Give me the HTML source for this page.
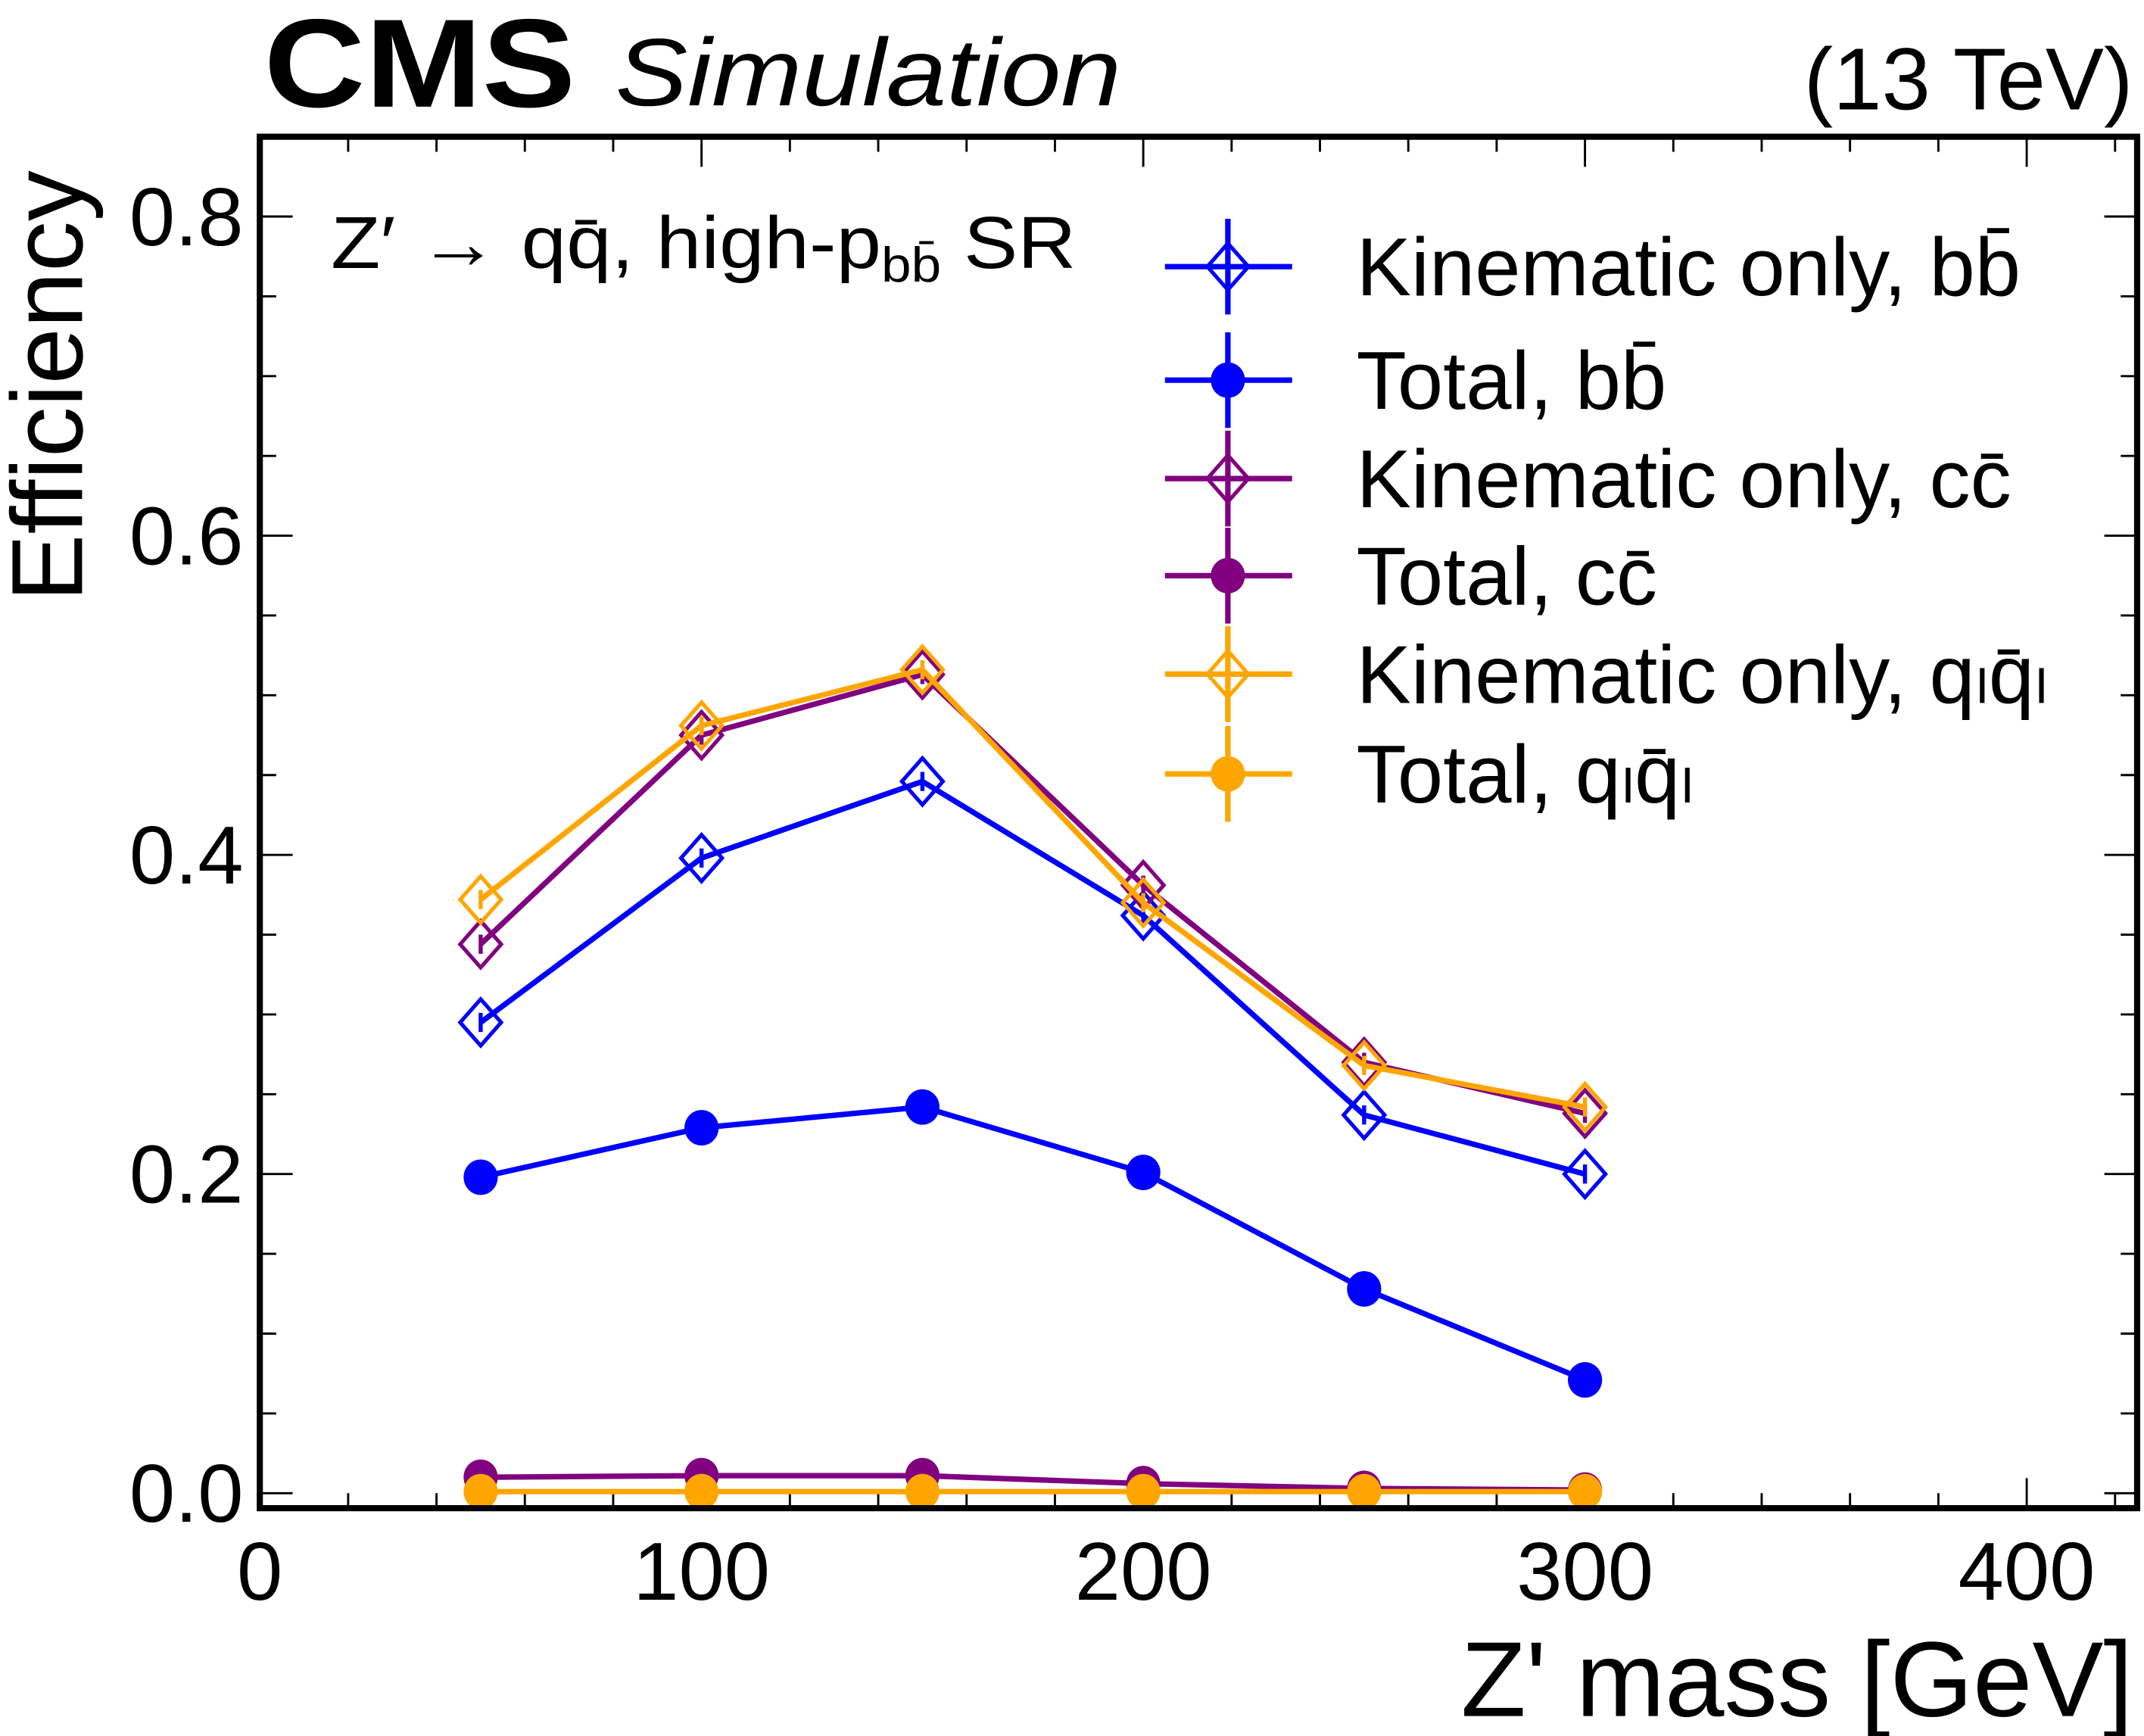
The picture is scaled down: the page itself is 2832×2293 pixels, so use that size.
<!DOCTYPE html>
<html><head><meta charset="utf-8"><style>html,body{margin:0;padding:0;background:#fff}svg{display:block}text{font-family:"Liberation Sans",sans-serif}</style></head>
<body>
<svg id="chart" width="2832" height="2293" viewBox="0 0 1568 1269.6" xmlns="http://www.w3.org/2000/svg">
<text x="193" y="78" font-size="92" font-weight="bold" textLength="228" lengthAdjust="spacingAndGlyphs">CMS</text>
<text x="450" y="77" font-size="70" font-style="italic" textLength="370" lengthAdjust="spacingAndGlyphs">Simulation</text>
<text x="1560" y="80" font-size="64" text-anchor="end">(13 TeV)</text>
<text transform="translate(60,440) rotate(-90)" font-size="74">Efficiency</text>
<text x="1560" y="1255" font-size="78" text-anchor="end">Z' mass [GeV]</text>
<text x="242" y="196" font-size="54" textLength="545" lengthAdjust="spacingAndGlyphs">Z′ → qq̄, high-p<tspan font-size="36" dy="10">bb̄</tspan><tspan dy="-10"> SR</tspan></text>
<g id="axes"></g>
<g id="series"></g>
<g id="legend"></g>
<rect x="190" y="100" width="1373" height="1003" fill="none" stroke="#000" stroke-width="4.5"/>
<script>
const masses=[50,100,150,200,250,300];
const kinBB=[0.295,0.398,0.446,0.362,0.237,0.200];
const totBB=[0.198,0.229,0.242,0.201,0.128,0.071];
const kinCC=[0.344,0.475,0.513,0.381,0.270,0.238];
const totCC=[0.010,0.011,0.011,0.006,0.003,0.002];
const kinQL=[0.372,0.481,0.516,0.370,0.268,0.242];
const totQL=[0.001,0.001,0.001,0.001,0.001,0.001];
const xTicks=[0,100,200,300,400];
const yTicks=[0.0,0.2,0.4,0.6,0.8];
const legendLabels=["Kinematic only, bb̄","Total, bb̄","Kinematic only, cc̄","Total, cc̄","Kinematic only, q\u2097q̄\u2097","Total, q\u2097q̄\u2097"];
const NS="http://www.w3.org/2000/svg";
const L=190,R=1563,T=100,B=1103,XMAX=425,YMIN=-0.0094,YMAX=0.85;
const sx=v=>L+(v/XMAX)*(R-L);
const sy=v=>B-(v-YMIN)/(YMAX-YMIN)*(B-T);
function mk(tag,attrs,parent){const e=document.createElementNS(NS,tag);for(const k in attrs)e.setAttribute(k,attrs[k]);parent.appendChild(e);return e;}
const ax=document.getElementById('axes');
for(let v=0;v<=XMAX;v+=20){const maj=v%100===0;const len=maj?22:11;
 let t=mk('line',{x1:sx(v),x2:sx(v),y1:B,y2:B-len,stroke:'#000','stroke-width':1.6},ax);
 
 t=mk('line',{x1:sx(v),x2:sx(v),y1:T,y2:T+len,stroke:'#000','stroke-width':1.6},ax);
 }
xTicks.forEach(v=>{const t=mk('text',{x:sx(v),y:1170,'font-size':60,'text-anchor':'middle'},ax);t.textContent=v;
 });
for(let i=0;i<=17;i++){const v=i*0.05;const maj=i%4===0;const len=maj?24:12;
 let t=mk('line',{x1:L,x2:L+len,y1:sy(v),y2:sy(v),stroke:'#000','stroke-width':1.6},ax);
 
 t=mk('line',{x1:R,x2:R-len,y1:sy(v),y2:sy(v),stroke:'#000','stroke-width':1.6},ax);
 }
yTicks.forEach(v=>{const t=mk('text',{x:178,y:sy(v)+21,'font-size':60,'text-anchor':'end'},ax);t.textContent=v.toFixed(1);
 });
const sg=document.getElementById('series');
function marker(g,x,y,c,open){
 if(open){const e=mk('path',{d:`M${x} ${y-17}L${x+15} ${y}L${x} ${y+17}L${x-15} ${y}Z`,fill:'#fff','fill-opacity':0,stroke:c,'stroke-width':2.8},g);
  
  const l=mk('line',{x1:x,x2:x,y1:y-7,y2:y+7,stroke:c,'stroke-width':3},g);}
 else{const e=mk('ellipse',{cx:x,cy:y,rx:12.5,ry:13,fill:c},g);}
}
const series=[[kinBB,'#0000ff',true,'kinematic-bb'],[totBB,'#0000ff',false,'total-bb'],[kinCC,'#800080',true,'kinematic-cc'],[totCC,'#800080',false,'total-cc'],[kinQL,'#ffa500',true,'kinematic-ql'],[totQL,'#ffa500',false,'total-ql']];
series.forEach(([vals,c,open,name])=>{const g=mk('g',{},sg);
 const pts=masses.map((m,i)=>sx(m)+','+sy(vals[i])).join(' ');
 const pl=mk('polyline',{points:pts,fill:'none',stroke:c,'stroke-width':4},g);
 masses.forEach((m,i)=>marker(g,sx(m),sy(vals[i]),c,open));});
const lg=document.getElementById('legend');
const ly=[195,278,350,421,493,566];
series.forEach(([vals,c,open,name],i)=>{const g=mk('g',{},lg);
 mk('line',{x1:852,x2:945,y1:ly[i],y2:ly[i],stroke:c,'stroke-width':4},g);
 mk('line',{x1:898,x2:898,y1:ly[i]-35,y2:ly[i]+35,stroke:c,'stroke-width':4},g);
 marker(g,898,ly[i],c,open);
 const t=mk('text',{x:992,y:ly[i]+21,'font-size':60},g);t.textContent=legendLabels[i];});
</script>
</svg>
</body></html>
